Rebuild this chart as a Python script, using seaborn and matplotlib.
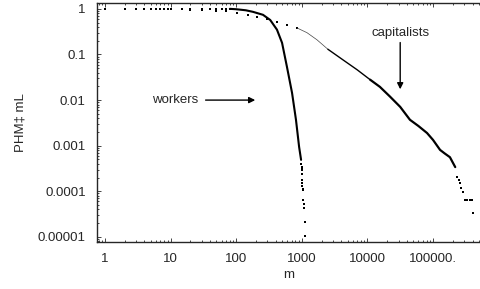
import matplotlib
matplotlib.use('Agg')
import matplotlib.pyplot as plt
import seaborn as sns

# cumulative distribution P(M >= m)
workers_dot_m = [1, 2, 3, 4, 5, 6, 7, 8, 9, 10, 15, 20, 30, 40, 50, 60, 70, 80]
workers_dot_p = [1, 1, 1, 1, 1, 1, 1, 1, 1, 1, 1, 1, 1, 1, 1, 1, 1, 1]
workers_line_m = [80, 100, 140, 180, 256, 330, 418, 500, 593, 710, 815, 910, 975]
workers_line_p = [1.0, 0.98, 0.93, 0.86, 0.74, 0.57, 0.35, 0.18, 0.054, 0.0144, 0.0037, 0.00094, 0.00049]
workers_tail_m = [985, 990, 995, 1000, 1005, 1010, 1015, 1020, 1030, 1040, 1050, 1065, 1080, 1100, 1120]
workers_tail_p = [4.0e-4, 3.5e-4, 3.2e-4, 2.9e-4, 2.4e-4, 1.8e-4, 1.5e-4, 1.3e-4, 1.15e-4, 1.07e-4, 6.5e-5, 5.3e-5, 4.4e-5, 2.1e-5, 1.05e-5]

cap_dot_m = [1, 2, 3, 4, 5, 7, 10, 15, 20, 30, 50, 70, 103, 150, 208, 300, 418, 590, 850]
cap_dot_p = [1, 1, 1, 1, 0.99, 0.99, 0.98, 0.97, 0.96, 0.94, 0.91, 0.88, 0.82, 0.75, 0.67, 0.6, 0.52, 0.45, 0.38]
cap_thin_m = [850, 1200, 1700, 2500]
cap_thin_p = [0.38, 0.30, 0.21, 0.13]
cap_mid_m = [2500, 4250, 7000, 11000]
cap_mid_p = [0.13, 0.076, 0.046, 0.028]
cap_thick_m = [11000, 15500, 22000, 31600, 44500, 60000, 81000, 100000, 128000, 150000, 181000, 218000]
cap_thick_p = [0.028, 0.0195, 0.012, 0.0071, 0.0037, 0.0027, 0.0019, 0.00134, 0.00081, 0.00068, 0.00056, 0.00034]
cap_tail_m = [233000, 245000, 258000, 270000, 287000, 310000, 330000, 360000, 390000, 410000]
cap_tail_p = [2.1e-4, 1.8e-4, 1.5e-4, 1.2e-4, 9.8e-5, 6.5e-5, 6.5e-5, 6.5e-5, 6.5e-5, 3.4e-5]

xticks = [1, 10, 100, 1000, 10000, 100000]
xlabels = ['1', '10', '100', '1000', '10000', '100000.']
yticks = [1, 0.1, 0.01, 0.001, 0.0001, 0.00001]
ylabels = ['1', '0.1', '0.01', '0.001', '0.0001', '0.00001']

sns.set_style('ticks')
plt.rcParams['font.family'] = ['Liberation Sans', 'DejaVu Sans']

fig = plt.figure(figsize=(4.8, 2.89), dpi=100)
ax = fig.add_axes([0.202, 0.163, 0.798, 0.827])

sns.scatterplot(x=workers_dot_m, y=workers_dot_p, ax=ax, color='black', s=1.5, marker='s', linewidth=0)
sns.lineplot(x=workers_line_m, y=workers_line_p, ax=ax, color='black', lw=1.5, sort=False)
sns.scatterplot(x=workers_tail_m, y=workers_tail_p, ax=ax, color='black', s=2.5, marker='s', linewidth=0)

sns.scatterplot(x=cap_dot_m, y=cap_dot_p, ax=ax, color='black', s=1.2, marker='s', linewidth=0)
sns.lineplot(x=cap_thin_m, y=cap_thin_p, ax=ax, color='#444444', lw=0.5, sort=False)
sns.lineplot(x=cap_mid_m, y=cap_mid_p, ax=ax, color='black', lw=1.0, sort=False)
sns.lineplot(x=cap_thick_m, y=cap_thick_p, ax=ax, color='black', lw=1.6, sort=False)
sns.scatterplot(x=cap_tail_m, y=cap_tail_p, ax=ax, color='black', s=3, marker='s', linewidth=0)

ax.set_xscale('log')
ax.set_yscale('log')
ax.set_xlim(0.755, 5.2e5)
ax.set_ylim(7.8e-6, 1.35)

ax.set_xticks(xticks)
ax.set_xticklabels(xlabels)
ax.set_yticks(yticks)
ax.set_yticklabels(ylabels)
ax.tick_params(which='both', direction='in', top=True, right=False, labelsize=9.5, width=0.6)
ax.tick_params(which='major', length=3, pad=8)
ax.tick_params(which='minor', length=1.5)
ax.spines['right'].set_visible(False)
for s in ['left', 'bottom', 'top']:
    ax.spines[s].set_linewidth(1.0)

ax.set_xlabel('m', fontsize=9.5, labelpad=3)
ax.set_ylabel('PHM\u2021 mL', fontsize=9.5, labelpad=8)

ax.annotate('', xy=(215, 0.01), xytext=(31, 0.01),
            arrowprops=dict(arrowstyle='-|>', color='black', lw=1.0, mutation_scale=9))
ax.text(26, 0.01, 'workers', ha='right', va='center', fontsize=9.5)
ax.annotate('', xy=(31600, 0.015), xytext=(31600, 0.21),
            arrowprops=dict(arrowstyle='-|>', color='black', lw=1.0, mutation_scale=9))
ax.text(31600, 0.3, 'capitalists', ha='center', va='center', fontsize=9.5)

fig.savefig('out.png', dpi=100)
